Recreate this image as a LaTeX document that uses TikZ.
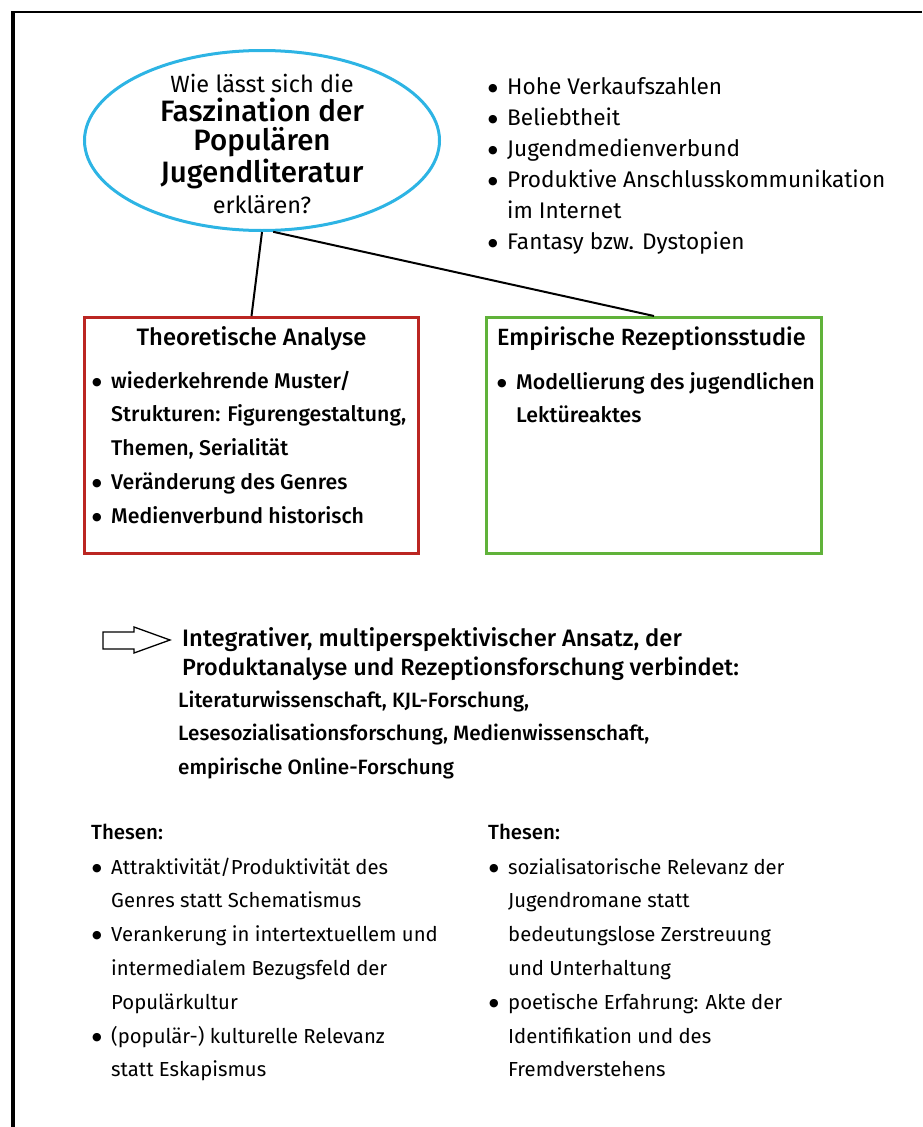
\documentclass[tikz,border=0pt]{standalone}
\usepackage{fontspec}
\setmainfont{Fira Sans}[BoldFont={Fira Sans Medium}]
\newfontfamily\bulfont{DejaVu Sans}
\usetikzlibrary{shapes.geometric}
\definecolor{qblue}{RGB}{45,180,228}
\definecolor{theored}{RGB}{187,38,34}
\definecolor{empgreen}{RGB}{96,178,58}
\tikzstyle{question}=[ellipse,draw=qblue,line width=3pt,minimum width=355pt,minimum height=180pt,inner sep=0pt]
\tikzstyle{theobox}=[rectangle,draw=theored,line width=3pt,minimum width=334pt,minimum height=236pt]
\tikzstyle{empbox}=[rectangle,draw=empgreen,line width=3pt,minimum width=335pt,minimum height=236pt]
\tikzstyle{textline}=[anchor=base west,inner sep=0pt]
\tikzstyle{link}=[draw,line width=2pt]
\newcommand{\bul}{\makebox[19pt][l]{\raisebox{3pt}{\fontsize{11}{11}\bulfont ●}}}
\newcommand{\ind}{\hspace*{19pt}}
\newcommand{\listfont}{\fontsize{22.6}{26}\selectfont}
\newcommand{\boxfont}{\fontsize{21.3}{25}\selectfont\bfseries}
\newcommand{\thesenfont}{\fontsize{20.3}{24}\selectfont}

\begin{document}
\begin{tikzpicture}[x=1pt,y=-1pt]
	\useasboundingbox (0,0) rectangle (922,1127);
	\def \lsep {31};
	\def \bsep {33.8};

	\draw[line width=3.5pt] (13,11) -- (13,1127);
	\draw[line width=1.3pt] (12,12) -- (922,12);

	\node[question] (q) at (262,140.5) {};
	\node[anchor=base,inner sep=0pt,font=\fontsize{23.5}{27}\selectfont] (q1) at (262,92) {Wie lässt sich die};
	\node[anchor=base,inner sep=0pt,font=\fontsize{29.5}{32}\selectfont\bfseries] (q2) at (262,121) {Faszination der};
	\node[anchor=base,inner sep=0pt,font=\fontsize{29.5}{32}\selectfont\bfseries] (q3) at (262,150) {Populären};
	\node[anchor=base,inner sep=0pt,font=\fontsize{29.5}{32}\selectfont\bfseries] (q4) at (262,182) {Jugendliteratur};
	\node[anchor=base,inner sep=0pt,font=\fontsize{23.5}{27}\selectfont] (q5) at (262,213) {erklären?};

	\foreach \t [count=\i] in {{\bul Hohe Verkaufszahlen}, {\bul Beliebtheit}, {\bul Jugendmedienverbund},
		{\bul Produktive Anschlusskommunikation}, {\ind im Internet}, {\bul Fantasy bzw. Dystopien}} {
		\node[textline,font=\listfont] (fact\i) at (488,{94+\lsep*(\i-1)}) {\t};
	};

	\node[theobox] (theo) at (251.5,435.5) {};
	\node[empbox] (emp) at (654,435.5) {};
	\draw[link] (q.south) -- (theo.north);
	\draw[link] (q.-83) -- (emp.north);

	\node[anchor=base,inner sep=0pt,font=\fontsize{23.8}{28}\selectfont\bfseries] (theotitle) at (251.5,345) {Theoretische Analyse};
	\node[textline,font=\fontsize{23.5}{28}\selectfont\bfseries] (emptitle) at (497,345) {Empirische Rezeptionsstudie};

	\foreach \t [count=\i] in {{\bul wiederkehrende Muster/}, {\ind Strukturen: Figurengestaltung,}, {\ind Themen, Serialität},
		{\bul Veränderung des Genres}, {\bul Medienverbund historisch}} {
		\node[textline,font=\boxfont] (theo\i) at (92,{388+\bsep*(\i-1)}) {\t};
	};
	\foreach \t [count=\i] in {{\bul Modellierung des jugendlichen}, {\ind Lektüreaktes}} {
		\node[textline,font=\boxfont] (emp\i) at (497,{389+\bsep*(\i-1)}) {\t};
	};

	\draw[line width=1.3pt] (103,632) -- (134,632) -- (134,627) -- (170,640) -- (134,653) -- (134,649) -- (103,649) -- cycle;
	\node[textline,font=\fontsize{23.8}{28}\selectfont\bfseries] (ansatz1) at (182,646) {Integrativer, multiperspektivischer Ansatz, der};
	\node[textline,font=\fontsize{23.4}{28}\selectfont\bfseries] (ansatz2) at (182,675) {Produktanalyse und Rezeptionsforschung verbindet:};
	\foreach \t [count=\i] in {{Literaturwissenschaft, KJL-Forschung,}, {Lesesozialisationsforschung, Medienwissenschaft,},
		{empirische Online-Forschung}} {
		\node[textline,font=\fontsize{20.7}{25}\selectfont\bfseries] (fach\i) at (178,{707+\bsep*(\i-1)}) {\t};
	};

	\node[textline,font=\fontsize{20.5}{24}\selectfont\bfseries] (thesenL) at (91,839) {Thesen:};
	\node[textline,font=\fontsize{20.5}{24}\selectfont\bfseries] (thesenR) at (488,839) {Thesen:};
	\foreach \t [count=\i] in {{\bul Attraktivität/Produktivität des}, {\ind Genres statt Schematismus},
		{\bul Verankerung in intertextuellem und}, {\ind intermedialem Bezugsfeld der}, {\ind Populärkultur},
		{\bul (populär-) kulturelle Relevanz}, {\ind statt Eskapismus}} {
		\node[textline,font=\thesenfont] (thL\i) at (92,{874+\bsep*(\i-1)}) {\t};
	};
	\foreach \t [count=\i] in {{\bul sozialisatorische Relevanz der}, {\ind Jugendromane statt},
		{\ind bedeutungslose Zerstreuung}, {\ind und Unterhaltung}, {\bul poetische Erfahrung: Akte der},
		{\ind Identifikation und des}, {\ind Fremdverstehens}} {
		\node[textline,font=\thesenfont] (thR\i) at (489,{874+\bsep*(\i-1)}) {\t};
	};
\end{tikzpicture}
\end{document}
